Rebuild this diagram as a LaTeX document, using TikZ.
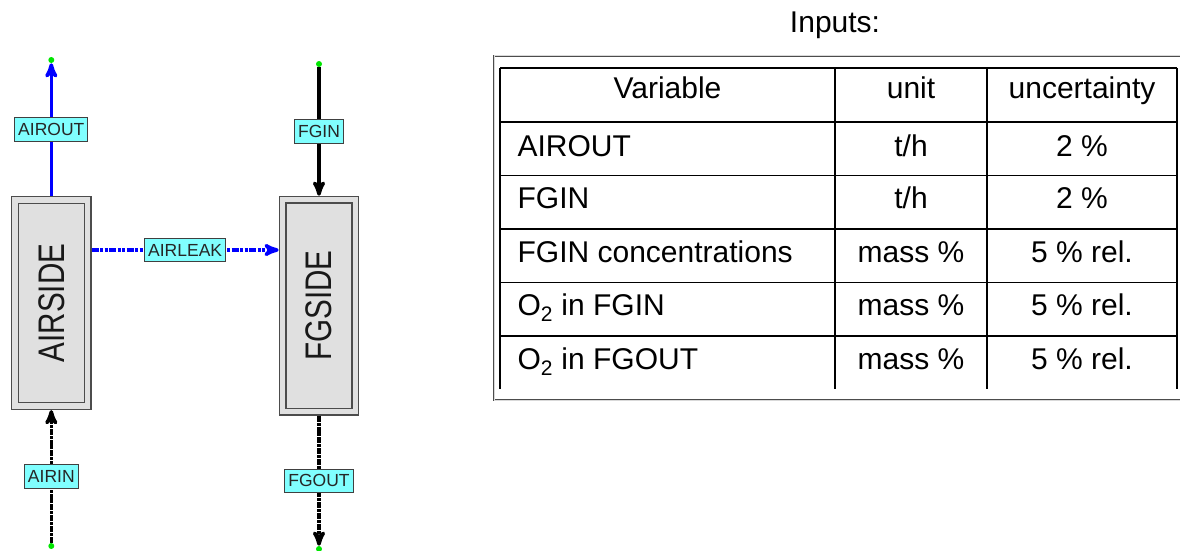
\documentclass[tikz,border=0pt]{standalone}
\usepackage{fontspec}
\setmainfont{Liberation Sans}
\usetikzlibrary{arrows,positioning}
\definecolor{tagcyan}{RGB}{128,255,255}
\definecolor{portgreen}{RGB}{0,230,0}
\definecolor{unitgray}{RGB}{224,224,224}

\begin{document}
\begin{tikzpicture}[x=1pt,y=-1pt,>=stealth',semithick]
\tikzstyle{every node}=[font=\fontsize{30}{36}\selectfont]
\tikzstyle{unit}=[draw=black!70,double=unitgray,double distance=5.4pt,line width=1.3pt,
                  fill=unitgray,outer sep=4pt,minimum width=72.7pt,inner sep=0pt]
\tikzstyle{unitname}=[rotate=90,xscale=0.8,font=\fontsize{37}{40}\selectfont,text=black!90]
\tikzstyle{tag}=[solid,draw=black!75,fill=tagcyan,line width=0.8pt,inner xsep=3.5pt,
                 inner ysep=0pt,minimum height=23.5pt,text=black!85,font=\fontsize{17.5}{20}\selectfont]
\tikzstyle{port}=[circle,fill=portgreen,inner sep=0pt,minimum size=6pt]
\tikzstyle{airflow}=[->,blue,line width=3.5pt]
\tikzstyle{gasflow}=[->,black,line width=3.5pt]
\tikzstyle{leak}=[dash pattern=on 7pt off 1.5pt on 3pt off 1.5pt on 3pt off 1.5pt]
\tikzstyle{hatched}=[dash pattern=on 6pt off 0.9pt on 3pt off 0.9pt]
\tikzstyle{grid}=[line width=1.4pt,black]
\tikzstyle{frame}=[draw=black!70,double=black!15,double distance=1pt,line width=0.9pt]
\useasboundingbox (0,0) rectangle (1180,551);

% units
\node [unit,minimum height=206.3pt] (airside) at (51.3,303) {};
\node [unitname] (airside-name) at (airside) {AIRSIDE};
\node [unit,minimum height=212pt] (fgside) at (319,305.7) {};
\node [unitname] (fgside-name) at (fgside) {FGSIDE};

% free ends
\node [port] (airout-port) at (51.3,60) {};
\node [port] (fgin-port) at (319,64) {};
\node [port] (airin-port) at (51.3,546) {};
\node [port] (fgout-port) at (319,549) {};
\coordinate (leak-row) at (0,250);

% streams
\draw [airflow] (airside.north) -- node [tag] {AIROUT} (airout-port);
\draw [gasflow] (fgin-port) -- node [tag] {FGIN} (fgside.north);
\draw [airflow,leak] (airside.east |- leak-row) -- node [tag] {AIRLEAK} (fgside.west |- leak-row);
\draw [gasflow,hatched] (airin-port) -- node [tag] {AIRIN} (airside.south);
\draw [gasflow,hatched] (fgside.south) -- node [tag] {FGOUT} (fgout-port);

% inputs table
\node [anchor=base] (inputs) at (835,33) {Inputs:};
\draw [frame] (494,56) rectangle (1186,400);
\foreach \y in {68,122,175.5,229,282.5,336}
  \draw [grid] (500,\y) -- (1177,\y);
\foreach \x in {500,835,987,1177}
  \draw [grid] (\x,68) -- (\x,389);
\node [anchor=base] (head-var) at (667.5,98) {Variable};
\node [anchor=base] (head-unit) at (911,98) {unit};
\node [anchor=base] (head-unc) at (1082,98) {uncertainty};
\foreach \y/\name/\unit/\unc [count=\i] in {156/AIROUT/{t/h}/{2 \%},
    208.5/FGIN/{t/h}/{2 \%},
    262/FGIN concentrations/{mass \%}/{5 \% rel.},
    315.5/{O\textsubscript{2} in FGIN}/{mass \%}/{5 \% rel.},
    369/{O\textsubscript{2} in FGOUT}/{mass \%}/{5 \% rel.}}
{
  \node [anchor=base west] (var-\i) at (514,\y) {\name};
  \node [anchor=base] (unit-\i) at (911,\y) {\unit};
  \node [anchor=base] (unc-\i) at (1082,\y) {\unc};
}
\end{tikzpicture}
\end{document}
